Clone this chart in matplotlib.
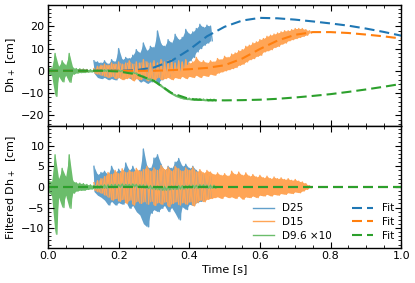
import numpy as np
import matplotlib
matplotlib.use("Agg")
import matplotlib.pyplot as plt
from matplotlib.colors import to_rgb
from matplotlib.ticker import MultipleLocator, AutoMinorLocator

# sample spacing of the measured signals: peaks at t0 + 0.01*i, troughs half a step later
DT = 0.005

# D25 (raw, cm): peak / trough values starting at t = 0.13
d25_t0 = 0.13
d25_hi = [4.5, 4.0, 3.5, 4.5, 3.0, 5.0, 4.0, 10.0, 5.0, 6.0, 5.5, 7.0, 9.5, 8.0, 12.5, 9.0, 11.0,
          10.5, 17.9, 12.0, 11.0, 14.0, 12.5, 16.4, 14.0, 15.0, 18.6, 16.5, 17.5, 19.0, 20.9, 19.5, 20.5, 20.1]
d25_lo = [-1.0, -3.0, -3.5, -3.0, -4.0, -3.5, -4.1, -3.0, -3.5, -2.5, -3.3, -4.0, -3.0, -5.0, -4.5, -5.6, -5.0,
          -3.0, -5.6, -4.0, -2.0, -2.6, -1.0, 0.5, -0.3, 1.5, 3.0, 4.5, 6.0, 8.5, 10.0, 11.5, 12.5, 13.5]
# D25 filtered
d25f_hi = [5.0, 3.0, 3.5, 3.8, 3.0, 5.0, 3.5, 4.3, 3.5, 5.8, 4.0, 5.0, 3.5, 4.0, 9.2, 5.0, 4.5,
           7.0, 7.8, 5.5, 4.0, 5.0, 4.5, 6.0, 6.9, 5.0, 5.5, 4.5, 5.0, 4.0, 3.5, 3.0, 3.0, 2.5]
d25f_lo = [-1.1, -2.0, -2.5, -3.2, -4.4, -3.5, -4.4, -3.8, -4.2, -3.5, -5.2, -4.5, -6.0, -6.8, -8.9, -9.7, -6.4,
           -5.5, -6.0, -5.2, -4.5, -6.0, -5.0, -6.4, -8.0, -4.8, -5.5, -4.2, -4.5, -3.8, -3.5, -3.2, -2.8, -2.5]

# D15 (raw, cm) starting at t = 0.13
d15_t0 = 0.13
d15_hi = [1.0, 2.0, 2.5, 3.0, 2.5, 3.5, 3.0, 4.0, 3.0, 3.5, 4.5, 3.0, 4.0, 3.5, 5.0, 4.0, 3.5, 4.5, 3.5, 5.0,
          4.0, 4.5, 5.0, 3.5, 4.5, 4.0, 5.0, 3.5, 4.0, 6.0, 4.0, 4.5, 3.5, 4.5, 4.0, 5.5, 5.0, 6.5, 6.0, 7.5,
          8.0, 9.0, 9.5, 11.0, 11.5, 12.5, 13.0, 14.0, 14.5, 15.5, 16.0, 16.5, 17.0, 17.5, 18.0, 18.0, 18.5,
          19.0, 19.0, 19.0, 18.5, 18.0]
d15_lo = [-1.0, -1.5, -2.0, -2.5, -3.0, -2.5, -3.5, -3.0, -4.0, -3.5, -3.0, -4.5, -3.5, -4.0, -3.0, -4.5, -3.5,
          -4.0, -3.0, -4.0, -3.5, -3.0, -4.0, -3.0, -3.5, -2.5, -3.5, -2.5, -3.0, -2.0, -3.0, -2.0, -2.5, -1.5,
          -2.0, -1.0, -0.5, 0.0, 0.5, 1.0, 1.5, 2.5, 3.0, 4.0, 5.0, 5.5, 6.5, 7.0, 8.5, 9.0, 9.5, 10.5, 11.0,
          12.0, 12.5, 13.5, 14.0, 14.5, 15.0, 15.5, 16.0, 17.0]
# D15 filtered
d15f_hi = [1.0, 1.5, 2.0, 2.5, 3.5, 3.0, 4.0, 3.2, 4.4, 3.5, 4.0, 3.6, 4.5, 3.8, 4.2, 5.0, 3.8, 4.6, 4.0, 5.2,
           4.2, 4.8, 3.8, 5.0, 4.4, 3.8, 4.6, 4.0, 4.8, 3.6, 4.2, 3.4, 4.0, 3.6, 3.0, 3.4, 2.8, 3.2, 2.6, 3.8,
           3.0, 3.6, 2.8, 3.4, 2.6, 3.0, 2.4, 2.8, 2.2, 2.6, 2.0, 2.4, 2.0, 2.2, 1.8, 2.0, 1.6, 1.8, 1.4, 1.2,
           0.8, 0.3]
d15f_lo = [-0.8, -1.2, -1.5, -2.0, -2.5, -3.2, -2.8, -3.5, -3.0, -4.0, -3.2, -4.4, -3.5, -4.0, -3.6, -4.2, -3.5,
           -4.5, -3.8, -4.2, -3.6, -4.8, -4.0, -3.6, -4.4, -3.8, -4.2, -3.6, -4.6, -3.8, -3.2, -3.6, -3.0, -2.8,
           -2.6, -2.4, -2.8, -2.2, -2.6, -2.4, -2.8, -2.2, -3.0, -2.4, -2.6, -2.2, -2.6, -2.0, -2.2, -1.8, -2.2,
           -1.8, -2.0, -1.6, -1.8, -1.4, -1.6, -1.2, -1.4, -1.0, -0.6, -0.2]

# D9.6 (x10) filtered, starting at t = 0, and its slow trend (one value per peak/trough pair)
d96_t0 = 0.0
d96f_hi = [1.8, 1.2, 7.8, 2.0, 4.5, 2.5, 7.8, 1.5, 1.0, 0.9, 0.8, 0.6, 0.5, 0.4, 0.4, 0.4, 0.5, 0.5, 0.6, 0.6,
           0.6, 0.7, 0.6, 0.6, 0.7, 0.6, 0.5, 0.5, 0.4, 0.3, 0.2, 0.2, 0.1, 0.1, 0.1, 0.2, 0.2, 0.3, 0.3, 0.3,
           0.4, 0.4, 0.4, 0.5, 0.5, 0.4, 0.4, 0.4]
d96f_lo = [-1.2, -2.0, -11.5, -2.5, -5.0, -2.0, -5.2, -1.5, -1.0, -0.8, -0.8, -0.6, -0.5, -0.4, -0.4, -0.3,
           -0.3, -0.2, -0.2, -0.1, -0.1, 0.0, 0.0, 0.0, 0.0, -0.1, -0.2, -0.3, -0.4, -0.5, -0.6, -0.7, -0.8,
           -0.8, -0.7, -0.6, -0.6, -0.5, -0.5, -0.4, -0.3, -0.3, -0.3, -0.2, -0.2, -0.3, -0.3, -0.3]
d96_trend = [0, 0, 0, 0, 0, 0, 0, 0, 0, 0, 0, 0, 0, 0, 0, 0, 0, 0, -0.1, -0.2, -0.3, -0.5, -0.7, -0.9,
             -1.2, -1.6, -2.2, -2.8, -3.5, -4.0, -4.5, -5.5, -6.5, -7.7, -9.0, -10.0, -10.9, -11.6, -12.1,
             -12.5, -12.7, -12.9, -13.0, -13.1, -13.2, -13.2, -13.2, -13.2]

# fits, every 0.05 s
fit_t = np.linspace(0, 1, 21)
fit_d25 = [0, 0, 0, 0, 0, 0.3, 1.5, 4.5, 9.5, 15.5, 19.8, 22.6, 23.8, 23.6, 23.0, 22.2, 21.3, 20.3, 19.0, 17.5, 15.8]
fit_d15 = [0, 0, 0, 0, 0, 0, 0, 0.3, 0.7, 1.3, 2.5, 5.5, 9.8, 13.6, 16.2, 17.4, 17.4, 17.0, 16.3, 15.5, 14.5]
fit_d96 = [0, 0, 0, 0, -0.3, -1.6, -4.5, -10.0, -12.7, -13.2, -13.3, -13.2, -13.0, -12.6, -12.0, -11.3,
           -10.5, -9.5, -8.4, -7.2, -5.9]

labels = ["D25", "D15", "D9.6 ×10"]
colors = ["C0", "C1", "C2"]


def light(c, a=0.7):
    # colour of c drawn with alpha a over white
    return tuple(a * v + (1 - a) for v in to_rgb(c))


def draw_signal(ax, t0, hi, lo, c, lab):
    hi = np.asarray(hi, dtype=float)
    lo = np.asarray(lo, dtype=float)
    t_hi = t0 + 2 * DT * np.arange(len(hi))
    y = np.empty(2 * len(hi))
    y[0::2] = hi
    y[1::2] = lo
    t = t0 + DT * np.arange(len(y))
    ax.fill_between(t_hi, lo, hi, color=light(c), lw=0)
    ax.plot(t, y, color=light(c), lw=1.0, label=lab)


plt.rcParams.update({
    "font.size": 8,
    "axes.linewidth": 1.0,
    "xtick.direction": "in",
    "ytick.direction": "in",
    "xtick.top": True,
    "ytick.right": True,
    "xtick.major.size": 4,
    "ytick.major.size": 4,
    "xtick.minor.size": 2,
    "ytick.minor.size": 2,
    "xtick.major.width": 0.8,
    "ytick.major.width": 0.8,
    "xtick.minor.width": 0.6,
    "ytick.minor.width": 0.6,
    "xtick.major.pad": 2.5,
    "ytick.major.pad": 2.5,
    "legend.fontsize": 7.5,
})

fig = plt.figure(figsize=(4.15, 2.83), dpi=100)
ax1 = fig.add_axes([0.1157, 0.555, 0.851, 0.429])
ax2 = fig.add_axes([0.1157, 0.124, 0.851, 0.431], sharex=ax1)

raw = [(d25_t0, d25_hi, d25_lo),
       (d15_t0, d15_hi, d15_lo),
       (d96_t0, np.add(d96f_hi, d96_trend), np.add(d96f_lo, d96_trend))]
filt = [(d25_t0, d25f_hi, d25f_lo),
        (d15_t0, d15f_hi, d15f_lo),
        (d96_t0, d96f_hi, d96f_lo)]
fits = [fit_d25, fit_d15, fit_d96]
dash = (4.8, 2.4)

for (t0, hi, lo), c, lab in zip(raw, colors, labels):
    draw_signal(ax1, t0, hi, lo, c, lab)
for f, c in zip(fits, colors):
    ax1.plot(fit_t, f, "--", dashes=dash, color=c, lw=1.5, label="Fit")

for (t0, hi, lo), c, lab in zip(filt, colors, labels):
    draw_signal(ax2, t0, hi, lo, c, lab)
for f, c in zip(fits, colors):
    ax2.plot(fit_t, np.zeros_like(fit_t), "--", dashes=dash, color=c, lw=1.5, label="Fit")

ax1.set_ylim(-24.8, 29.8)
ax1.yaxis.set_major_locator(MultipleLocator(10))
ax1.yaxis.set_minor_locator(AutoMinorLocator(5))
ax1.set_ylabel("Dh$_+$ [cm]", labelpad=2)
ax1.tick_params(labelbottom=False)

ax2.set_ylim(-14.8, 14.8)
ax2.yaxis.set_major_locator(MultipleLocator(5))
ax2.yaxis.set_minor_locator(AutoMinorLocator(5))
ax2.set_ylabel("Filtered Dh$_+$  [cm]", labelpad=2)

ax2.set_xlim(0, 1)
ax2.xaxis.set_major_locator(MultipleLocator(0.2))
ax2.xaxis.set_minor_locator(AutoMinorLocator(4))
ax2.set_xlabel("Time [s]", labelpad=2)

ax2.legend(loc="lower right", ncol=2, frameon=False, labelspacing=0.35,
           borderaxespad=0.3, columnspacing=2.0)

fig.align_ylabels([ax1, ax2])
fig.savefig("out.png", dpi=100)
